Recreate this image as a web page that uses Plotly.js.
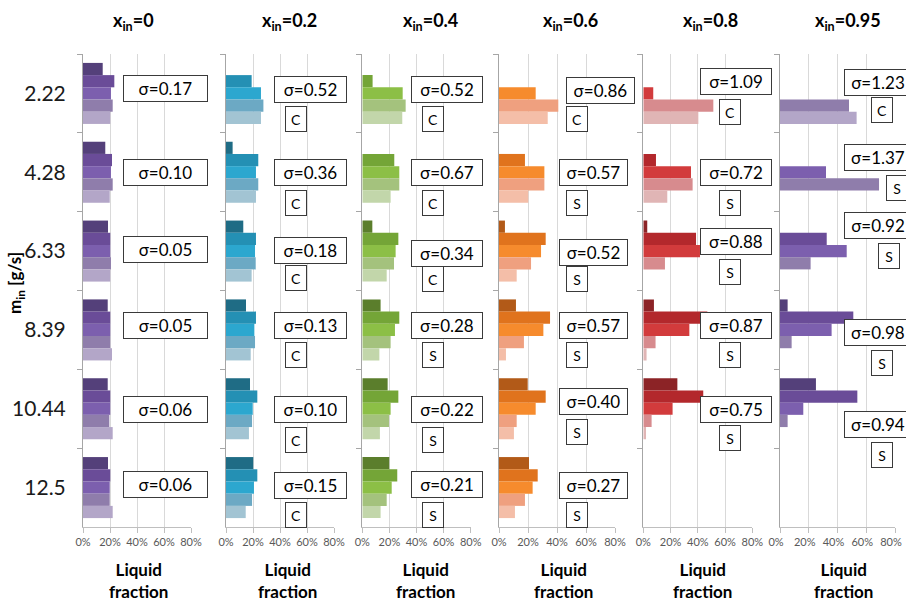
<!DOCTYPE html>
<html>
<head>
<meta charset="utf-8">
<script src="https://cdn.plot.ly/plotly-3.0.1.min.js"></script>
<style>html,body{margin:0;padding:0;background:#fff;}#chart{width:906px;height:604px;}</style>
</head>
<body>
<div id="chart"></div>
<script>
// ---- data ----
const mIn = ['2.22', '4.28', '6.33', '8.39', '10.44', '12.5'];
const xInLabels = ['0', '0.2', '0.4', '0.6', '0.8', '0.95'];
const xTickVals = [0, 20, 40, 60, 80];
const xTickText = ['0%', '20%', '40%', '60%', '80%'];

// liquid fraction [%]; rows = bar 1..5 (top to bottom in each group), columns = m_in groups
const frac_x0 = [
  [14.6, 16.5, 18.5, 18.3, 18.3, 18.5],
  [23.2, 21.5, 20.2, 20.2, 20.2, 20.2],
  [20.7, 20.7, 20.2, 20.2, 20.2, 19.8],
  [22.0, 22.0, 20.7, 20.2, 19.5, 19.8],
  [20.2, 19.8, 20.2, 21.5, 22.0, 22.0]
];
const frac_x02 = [
  [0, 4.9, 12.8, 14.8, 17.8, 20.2],
  [19.0, 23.9, 22.2, 22.2, 23.2, 23.2],
  [25.9, 22.2, 21.5, 21.0, 19.8, 20.7],
  [27.7, 23.9, 22.0, 21.5, 19.3, 19.3],
  [25.9, 22.2, 19.0, 18.3, 17.0, 14.6]
];
const frac_x04 = [
  [0, 0, 7.4, 13.5, 18.7, 19.9],
  [7.6, 23.6, 26.6, 27.3, 26.6, 25.8],
  [29.8, 27.3, 24.6, 24.1, 20.9, 21.7],
  [32.0, 27.3, 23.4, 20.9, 19.7, 18.0],
  [29.5, 20.9, 18.0, 12.6, 13.0, 13.5]
];
const frac_x06 = [
  [0, 0, 4.1, 11.7, 19.8, 20.7],
  [0, 17.9, 32.2, 35.2, 32.2, 26.7],
  [25.3, 31.3, 29.0, 30.6, 25.3, 23.2],
  [40.9, 31.3, 22.1, 17.2, 12.2, 17.9],
  [33.6, 20.2, 12.2, 4.8, 10.3, 11.0]
];
const frac_x08 = [
  [0, 0, 2.9, 7.8, 25.0, 0],
  [0, 9.3, 38.7, 47.0, 44.0, 0],
  [7.3, 35.0, 41.6, 33.8, 21.5, 0],
  [51.4, 36.2, 15.9, 9.0, 6.1, 0],
  [40.4, 17.6, 0, 2.4, 2.0, 0]
];
const frac_x095 = [
  [0, 0, 0, 5.3, 25.0, 0],
  [0, 0, 32.5, 51.0, 53.8, 0],
  [0, 32.0, 46.4, 35.9, 16.2, 0],
  [48.0, 68.9, 21.3, 8.1, 5.3, 0],
  [53.3, 0, 0, 0, 0, 0]
];

const sigma_x0 = [0.17, 0.10, 0.05, 0.05, 0.06, 0.06];
const sigma_x02 = [0.52, 0.36, 0.18, 0.13, 0.10, 0.15];
const sigma_x04 = [0.52, 0.67, 0.34, 0.28, 0.22, 0.21];
const sigma_x06 = [0.86, 0.57, 0.52, 0.57, 0.40, 0.27];
const sigma_x08 = [1.09, 0.72, 0.88, 0.87, 0.75, null];
const sigma_x095 = [1.23, 1.37, 0.92, 0.98, 0.94, null];

const regime_x0 = [null, null, null, null, null, null];
const regime_x02 = ['C', 'C', 'C', 'C', 'C', 'C'];
const regime_x04 = ['C', 'C', 'C', 'S', 'S', 'S'];
const regime_x06 = ['C', 'S', 'S', 'S', 'S', 'S'];
const regime_x08 = ['C', 'S', 'S', 'S', 'S', null];
const regime_x095 = ['C', 'S', 'S', 'S', 'S', null];

// ---- styling / layout ----
const W = 906, H = 604;
const panels = [
  {frac: frac_x0, sig: sigma_x0, reg: regime_x0,
   colors: ['#54407a', '#6a4c98', '#7c5fae', '#8f7dab', '#b3a6c8'],
   px: [83, 191], head: 133, xt: 138, tshift: 0,
   sigX: [29.6], sigW: 81, sigOff: [-4.5, 0.6, -1.6, -4.4, 0.7, -2.9],
   letX: [0], letOff: []},
  {frac: frac_x02, sig: sigma_x02, reg: regime_x02,
   colors: ['#1f6c85', '#2490b4', '#2ca7cf', '#6ca9c4', '#a2c4d3'],
   px: [226, 334], head: 289, xt: 287, tshift: 0,
   sigX: [35.6], sigW: 69, sigOff: [-3.7, 0.7, -0.7, -4.4, 0.7, -2.3],
   letX: [43.7], letOff: [25.3, 30.6, 26.8, 25.4, 31.2, 27.4]},
  {frac: frac_x04, sig: sigma_x04, reg: regime_x04,
   colors: ['#5b7e2c', '#74a537', '#8cbf46', '#a4c27d', '#c2d6aa'],
   px: [362.3, 470.7], head: 430, xt: 425, tshift: 0,
   sigX: [36.0], sigW: 68, sigOff: [-3.9, 0.7, 2.8, -4.4, 0.7, -2.6],
   letX: [43.7], letOff: [25.5, 30.6, 28.1, 25.1, 31.2, 27.4]},
  {frac: frac_x06, sig: sigma_x06, reg: regime_x06,
   colors: ['#b25a18', '#e0731d', '#f68b2d', '#efa07f', '#f4bea8'],
   px: [499, 615], head: 570, xt: 563, tshift: 0,
   sigX: [46.2, 41.6, 41.6, 41.6, 41.6, 41.6], sigW: 65, sigOff: [-3.2, 0.7, 1.9, -4.4, -7.6, -2.3],
   letX: [46.2], letOff: [25.5, 30.6, 28.1, 25.1, 22.9, 27.4]},
  {frac: frac_x08, sig: sigma_x08, reg: regime_x08,
   colors: ['#8c2326', '#b3282c', '#d23b3c', '#d78b8e', '#e0b5b5'],
   px: [643.3, 752.3], head: 710, xt: 702, tshift: 0,
   sigX: [41.6], sigW: 68, sigOff: [-11.7, 0.6, -9.7, -4.9, 0.7],
   letX: [55.2], letOff: [18.3, 30.6, 20.6, 25.1, 29.5]},
  {frac: frac_x095, sig: sigma_x095, reg: regime_x095,
   colors: ['#54407a', '#6a4c98', '#7c5fae', '#8f7dab', '#b3a6c8'],
   px: [780, 895], head: 848, xt: 843, tshift: -4,
   sigX: [44.2], sigW: 64, sigOff: [-11.2, -14.8, -25.1, 2.6, 15.9],
   letX: [63.3, 73.7, 68.2, 63.3, 63.3], letOff: [16.6, 15.7, 4.9, 32.6, 46.2]}
];
const plotTop = 54, plotBottom = 527;
const FONT = 'Lato, "Open Sans", "Noto Sans", sans-serif';

const traces = [];
const layout = {
  width: W, height: H,
  margin: {l: 0, r: 0, t: 0, b: 0},
  paper_bgcolor: '#ffffff', plot_bgcolor: 'rgba(0,0,0,0)',
  barmode: 'group', bargap: 0.226, bargroupgap: 0,
  showlegend: false,
  font: {family: FONT, color: '#000'},
  annotations: []
};

panels.forEach((p, k) => {
  const s = k === 0 ? '' : String(k + 1);
  p.frac.forEach((vals, j) => {
    traces.push({
      type: 'bar', orientation: 'h',
      x: vals, y: mIn,
      xaxis: 'x' + s, yaxis: 'y' + s,
      marker: {color: p.colors[j], line: {width: 0}},
      hoverinfo: 'x+y'
    });
  });
  layout['xaxis' + s] = {
    domain: [p.px[0] / W, p.px[1] / W],
    anchor: 'y' + s,
    range: [0, 80],
    tickvals: xTickVals, ticktext: xTickText,
    showgrid: true, gridcolor: '#d9d9d9', gridwidth: 1,
    zeroline: false,
    showline: true, linecolor: '#bfbfbf', linewidth: 1,
    ticks: 'outside', ticklen: 5, tickcolor: '#bfbfbf',
    ticklabeloverflow: 'allow',
    ticklabelshift: p.tshift,
    tickfont: {size: 11, color: '#595959', family: FONT},
    fixedrange: true
  };
  layout['yaxis' + s] = {
    domain: [1 - plotBottom / H, 1 - plotTop / H],
    anchor: 'x' + s,
    type: 'category',
    categoryorder: 'array', categoryarray: mIn,
    range: [mIn.length - 0.5, -0.5],
    showgrid: false, zeroline: false,
    showline: true, linecolor: '#a6a6a6', linewidth: 1,
    ticks: 'outside', ticklen: 5, tickcolor: '#a6a6a6',
    tickson: 'boundaries',
    showticklabels: k === 0,
    ticklabelstandoff: 12,
    ticklabeloverflow: 'allow',
    tickfont: {size: 21, color: '#1a1a1a', family: FONT},
    fixedrange: true
  };

  // column header
  layout.annotations.push({
    xref: 'paper', yref: 'paper', x: p.head / W, y: 1 - 22 / H,
    xanchor: 'center', yanchor: 'middle', showarrow: false,
    text: '<b>x<sub>in</sub>=' + xInLabels[k] + '</b>',
    font: {size: 18, color: '#000', family: FONT}
  });
  // x-axis title
  layout.annotations.push({
    xref: 'paper', yref: 'paper', x: p.xt / W, y: 1 - 580 / H,
    xanchor: 'center', yanchor: 'middle', showarrow: false,
    text: '<b>Liquid<br>fraction</b>',
    font: {size: 17, color: '#000', family: FONT}
  });

  // sigma boxes and regime letters
  p.sig.forEach((sv, g) => {
    if (sv === null) return;
    const sx = p.sigX.length > 1 ? p.sigX[g] : p.sigX[0];
    layout.annotations.push({
      xref: 'x' + s, yref: 'y' + s,
      x: sx, y: g, xanchor: 'left', yanchor: 'middle',
      yshift: -p.sigOff[g],
      showarrow: false,
      text: 'σ=' + sv.toFixed(2),
      width: p.sigW, height: 23, align: 'center',
      bgcolor: '#ffffff', bordercolor: '#3a3a3a', borderwidth: 1, borderpad: 1,
      font: {size: 17, color: '#000', family: FONT}
    });
    const r = p.reg[g];
    if (r) {
      const lx = p.letX.length > 1 ? p.letX[g] : p.letX[0];
      layout.annotations.push({
        xref: 'x' + s, yref: 'y' + s,
        x: lx, y: g, xanchor: 'left', yanchor: 'middle',
        yshift: -p.letOff[g],
        showarrow: false,
        text: r,
        width: 18, height: 22, align: 'center',
        bgcolor: '#ffffff', bordercolor: '#3a3a3a', borderwidth: 1, borderpad: 1,
        font: {size: 14, color: '#000', family: FONT}
      });
    }
  });
});

// y-axis title
layout.annotations.push({
  xref: 'paper', yref: 'paper', x: 16 / W, y: 1 - 283 / H,
  xanchor: 'center', yanchor: 'middle', showarrow: false, textangle: -90,
  text: '<b>m<sub>in</sub> [g/s]</b>',
  font: {size: 17, color: '#000', family: FONT}
});

Plotly.newPlot('chart', traces, layout, {staticPlot: true, displayModeBar: false});
</script>
</body>
</html>
